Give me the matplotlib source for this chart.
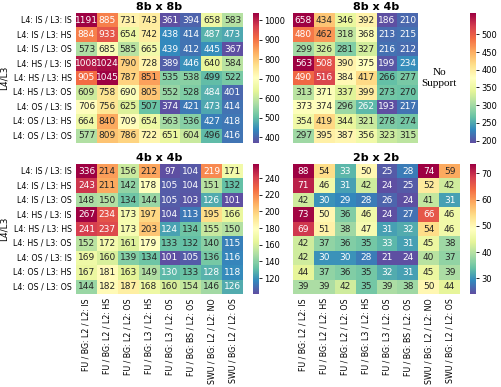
#!/usr/bin/env python3

# heatmaps of the four bit-width configurations

import numpy as np
import matplotlib
matplotlib.use("Agg")
import matplotlib.pyplot as plt
import seaborn as sns


# row / column labels

row_labels = ["L4: IS / L3: IS", "L4: IS / L3: HS", "L4: IS / L3: OS",
              "L4: HS / L3: IS", "L4: HS / L3: HS", "L4: HS / L3: OS",
              "L4: OS / L3: IS", "L4: OS / L3: HS", "L4: OS / L3: OS"]

col_labels = ["FU / BG: L2 / L2: IS", "FU / BG: L2 / L2: HS", "FU / BG: L2 / L2: OS",
              "FU / BG: L3 / L2: HS", "FU / BG: L3 / L2: OS", "FU / BG: BS / L2: OS",
              "SWU / BG: L2 / L2: NO", "SWU / BG: L2 / L2: OS"]


# values

vals_8x8 = [[1191, 885, 731, 743, 361, 394, 658, 583],
            [884, 933, 654, 742, 438, 414, 487, 473],
            [573, 685, 585, 665, 439, 412, 445, 367],
            [1008, 1024, 790, 728, 389, 446, 640, 584],
            [905, 1045, 787, 851, 535, 538, 499, 522],
            [609, 758, 690, 805, 552, 528, 484, 401],
            [706, 756, 625, 507, 374, 421, 473, 414],
            [664, 840, 709, 654, 563, 536, 427, 418],
            [577, 809, 786, 722, 651, 604, 496, 416]]

# SWU columns not supported for 8b x 4b
nan = np.nan
vals_8x4 = [[658, 434, 346, 392, 186, 210, nan, nan],
            [480, 462, 318, 368, 213, 215, nan, nan],
            [299, 326, 281, 327, 216, 212, nan, nan],
            [563, 508, 390, 375, 199, 234, nan, nan],
            [490, 516, 384, 417, 266, 277, nan, nan],
            [313, 371, 337, 399, 273, 270, nan, nan],
            [373, 374, 296, 262, 193, 217, nan, nan],
            [354, 419, 344, 321, 278, 274, nan, nan],
            [297, 395, 387, 356, 323, 315, nan, nan]]

vals_4x4 = [[336, 214, 156, 212, 97, 104, 219, 171],
            [243, 211, 142, 178, 105, 104, 151, 132],
            [148, 150, 134, 144, 105, 103, 126, 101],
            [267, 234, 173, 197, 104, 113, 195, 166],
            [241, 237, 173, 203, 124, 134, 155, 150],
            [152, 172, 161, 179, 133, 132, 140, 115],
            [169, 160, 139, 134, 101, 105, 136, 116],
            [167, 181, 163, 149, 130, 133, 128, 118],
            [144, 182, 187, 168, 160, 154, 146, 126]]

vals_2x2 = [[88, 54, 33, 50, 25, 28, 74, 59],
            [71, 46, 31, 42, 24, 25, 52, 42],
            [42, 30, 29, 28, 26, 24, 41, 31],
            [73, 50, 36, 46, 24, 27, 66, 46],
            [69, 51, 38, 47, 31, 32, 54, 46],
            [42, 37, 36, 35, 33, 31, 45, 38],
            [42, 30, 30, 28, 21, 24, 40, 37],
            [44, 37, 36, 35, 32, 31, 45, 39],
            [39, 39, 42, 35, 39, 38, 50, 44]]

titles = ["8b x 8b", "8b x 4b", "4b x 4b", "2b x 2b"]
cbar_ticks = [[400, 500, 600, 700, 800, 900, 1000],
              [200, 250, 300, 350, 400, 450, 500],
              [120, 140, 160, 180, 200, 220, 240],
              [30, 40, 50, 60, 70]]


# figure and axes

W, H = 501, 387
fig = plt.figure(figsize=(W / 100, H / 100), dpi=100)

def px_axes(x0, y0, x1, y1):
    return fig.add_axes([x0 / W, 1 - y1 / H, (x1 - x0) / W, (y1 - y0) / H])

boxes = [(76, 13, 243, 143), (293, 13, 460, 143),
         (76, 164, 243, 294), (293, 164, 460, 294)]
cboxes = [(253, 13, 259, 143), (470, 13, 476, 143),
          (253, 164, 259, 294), (470, 164, 476, 294)]

all_vals = [vals_8x8, vals_8x4, vals_4x4, vals_2x2]

for i, (vals, title) in enumerate(zip(all_vals, titles)):
    ax = px_axes(*boxes[i])
    cax = px_axes(*cboxes[i])
    data = np.array(vals, dtype=float)

    sns.heatmap(data, ax=ax, cbar_ax=cax, cmap="Spectral_r", robust=True,
                annot=True, fmt=".0f", annot_kws={"fontsize": 6.5},
                xticklabels=col_labels, yticklabels=row_labels)

    ax.set_title(title, fontsize=8, fontweight="bold", pad=2)
    ax.tick_params(length=0, labelsize=5.7, pad=3)

    if i % 2 == 0:
        ax.set_ylabel("L4/L3", fontsize=6.5, labelpad=3)
    else:
        ax.set_yticklabels([])

    if i < 2:
        ax.set_xticklabels([])
    else:
        ax.set_xticklabels(col_labels, rotation=90)

    cax.set_yticks(cbar_ticks[i])
    cax.tick_params(labelsize=6, length=2.5, width=0.6, pad=1.5)
    for s in cax.spines.values():
        s.set_visible(False)

    if i == 1:
        ax.text(7.0, 4.5, "No\nSupport", ha="center", va="center",
                fontsize=8, family="Liberation Serif", linespacing=1.3)


plt.savefig("out.png", dpi=100)
